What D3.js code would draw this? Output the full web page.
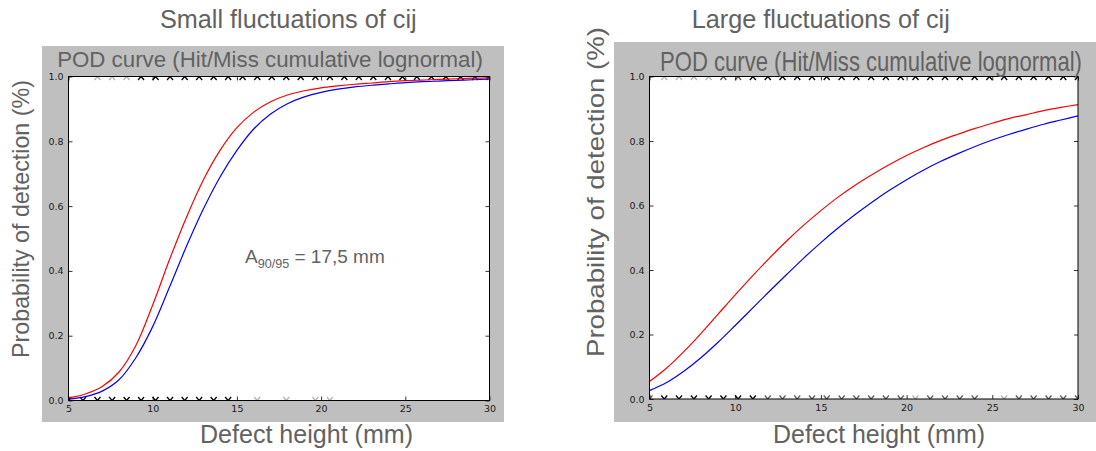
<!DOCTYPE html>
<html>
<head>
<meta charset="utf-8">
<script src="https://cdnjs.cloudflare.com/ajax/libs/d3/7.8.5/d3.min.js"></script>
<style>
  html, body { margin: 0; padding: 0; background: #ffffff; }
  svg { display: block; }
</style>
</head>
<body>
<svg id="chart" width="1096" height="451"></svg>
<script>
// ---------------- DATA ----------------
const chartTitles = ["Small fluctuations of cij", "Large fluctuations of cij"];
const subTitle = "POD curve (Hit/Miss cumulative lognormal)";
const xLabel = "Defect height (mm)";
const yLabel = "Probability of detection (%)";
const xTicks = [5, 10, 15, 20, 25, 30];
const yTicks = [0.0, 0.2, 0.4, 0.6, 0.8, 1.0];

// tested defect heights (hit/miss observations)
const heights = [5.0, 5.86, 6.72, 7.59, 8.45, 9.31, 10.17, 11.03, 11.9, 12.76,
  13.62, 14.48, 15.34, 16.21, 17.07, 17.93, 18.79, 19.66, 20.52, 21.38,
  22.24, 23.1, 23.97, 24.83, 25.69, 26.55, 27.41, 28.28, 29.14, 30.0];
// number of hits / misses observed at each height (0..3)
const hitsSmall   = [0,0,1,1,1,3,3,3,3,3,3,3,3,3,3,3,3,3,3,3,3,3,3,3,3,3,3,3,3,3];
const missesSmall = [3,3,3,3,3,3,3,3,3,3,3,3,0,1,0,1,0,1,1,0,0,0,0,0,0,0,0,0,0,0];
const hitsLarge   = [0,1,1,1,1,2,2,3,3,3,3,3,3,3,3,3,3,3,3,3,3,3,3,3,3,3,3,3,3,3];
const missesLarge = [2,3,3,3,3,3,3,3,2,2,2,2,2,2,2,2,2,2,1,2,2,2,2,0,1,2,2,2,2,2];

// POD curves read at integer defect heights
const curveX = [5,6,7,8,9,10,11,12,13,14,15,16,17,18,19,20,21,22,23,24,25,26,27,28,29,30];
const podSmallRed  = [0.008,0.02,0.043,0.088,0.17,0.295,0.435,0.565,0.68,0.772,0.842,0.89,0.922,0.943,0.956,0.965,0.971,0.976,0.98,0.984,0.987,0.989,0.991,0.993,0.995,0.996];
const podSmallBlue = [0.004,0.012,0.029,0.064,0.132,0.228,0.35,0.475,0.59,0.69,0.772,0.838,0.884,0.916,0.937,0.951,0.961,0.968,0.973,0.977,0.981,0.984,0.986,0.988,0.99,0.992];
const podLargeRed  = [0.054,0.096,0.147,0.203,0.263,0.323,0.381,0.437,0.49,0.539,0.584,0.626,0.663,0.696,0.727,0.755,0.78,0.802,0.821,0.839,0.855,0.87,0.882,0.894,0.904,0.913];
const podLargeBlue = [0.026,0.051,0.086,0.128,0.176,0.228,0.281,0.334,0.386,0.437,0.485,0.53,0.572,0.611,0.647,0.68,0.71,0.737,0.761,0.783,0.803,0.821,0.837,0.852,0.865,0.878];

const annotationMain = "A";
const annotationSub = "90/95";
const annotationRest = " = 17,5 mm";

// ---------------- LAYOUT ----------------
const svg = d3.select("#chart");
const SANS = "'Liberation Sans', Arial, Helvetica, sans-serif";
const TICKFONT = "'DejaVu Sans', sans-serif";
const TEXTGREY = "#626262";

function fitWidth(sel, target) {
  const base = parseFloat(sel.attr("font-size"));
  const w = sel.node().getComputedTextLength();
  sel.attr("font-size", (base * target / w).toFixed(2));
}

const panels = [
  { title: chartTitles[0], panel: [42, 46, 504, 422], plot: [68.5, 76.5, 489.5, 400.5],
    titleX: 288.3, titleW: 256.7, subX: 270, subY: 67, subW: 426, subSY: 1.0,
    xlX: 306.5, xlW: 213, ylX: 29, ylY: 219, ylLen: 278,
    red: podSmallRed, blue: podSmallBlue, hits: hitsSmall, misses: missesSmall, annot: true },
  { title: chartTitles[1], panel: [614, 42, 1096, 422], plot: [649.5, 76.5, 1078, 399],
    titleX: 820.8, titleW: 258, subX: 871, subY: 71, subW: 421.7, subSY: 1.25,
    xlX: 879, xlW: 212, ylX: 604, ylY: 192, ylLen: 330,
    red: podLargeRed, blue: podLargeBlue, hits: hitsLarge, misses: missesLarge, annot: false }
];

const opacityFor = c => c === 0 ? 0 : (c === 1 ? 0.3 : (c === 2 ? 0.65 : 1.0));

panels.forEach((cfg, idx) => {
  const [px0, py0, px1, py1] = cfg.panel;
  const [x0, y0, x1, y1] = cfg.plot;
  const g = svg.append("g");

  // grey figure panel
  g.append("rect").attr("x", px0).attr("y", py0)
    .attr("width", px1 - px0).attr("height", py1 - py0).attr("fill", "#bfbfbf");

  const x = d3.scaleLinear().domain([5, 30]).range([x0, x1]);
  const y = d3.scaleLinear().domain([0, 1]).range([y1, y0]);

  // white axes background
  g.append("rect").attr("x", x0).attr("y", y0)
    .attr("width", x1 - x0).attr("height", y1 - y0).attr("fill", "#ffffff");

  const clipId = "clip" + idx;
  g.append("clipPath").attr("id", clipId).append("rect")
    .attr("x", x0).attr("y", y0).attr("width", x1 - x0).attr("height", y1 - y0);

  const inner = g.append("g").attr("clip-path", `url(#${clipId})`);

  // hit/miss markers (x markers, clipped by axes)
  const xm = "M-3,-3.5L3,3.5M-3,3.5L3,-3.5";
  const obs = heights.map((h, i) => ({ h, hit: cfg.hits[i], miss: cfg.misses[i] }));
  inner.selectAll(".hit").data(obs.filter(d => d.hit > 0)).join("path")
    .attr("d", xm).attr("transform", d => `translate(${x(d.h)},${y(1)})`)
    .attr("stroke", "#000").attr("stroke-width", 1.3).attr("fill", "none")
    .attr("stroke-opacity", d => opacityFor(d.hit));
  inner.selectAll(".miss").data(obs.filter(d => d.miss > 0)).join("path")
    .attr("d", xm).attr("transform", d => `translate(${x(d.h)},${y(0)})`)
    .attr("stroke", "#000").attr("stroke-width", 1.3).attr("fill", "none")
    .attr("stroke-opacity", d => opacityFor(d.miss));

  // POD curves
  const line = d3.line().x(d => x(d[0])).y(d => y(d[1])).curve(d3.curveCatmullRom.alpha(0.5));
  inner.append("path").datum(curveX.map((v, i) => [v, cfg.blue[i]]))
    .attr("d", line).attr("fill", "none").attr("stroke", "#0000ff").attr("stroke-width", 1.2);
  inner.append("path").datum(curveX.map((v, i) => [v, cfg.red[i]]))
    .attr("d", line).attr("fill", "none").attr("stroke", "#ff0000").attr("stroke-width", 1.2);

  // axes with inward ticks on all four sides
  const tickLen = 4;
  const axB = g.append("g").attr("transform", `translate(0,${y1})`)
    .call(d3.axisBottom(x).tickValues(xTicks).tickSize(-tickLen).tickPadding(5).tickFormat(d3.format("d")));
  const axT = g.append("g").attr("transform", `translate(0,${y0})`)
    .call(d3.axisTop(x).tickValues(xTicks).tickSize(-tickLen).tickFormat(""));
  const axL = g.append("g").attr("transform", `translate(${x0},0)`)
    .call(d3.axisLeft(y).tickValues(yTicks).tickSize(-tickLen).tickPadding(5).tickFormat(d3.format(".1f")));
  const axR = g.append("g").attr("transform", `translate(${x1},0)`)
    .call(d3.axisRight(y).tickValues(yTicks).tickSize(-tickLen).tickFormat(""));
  [axB, axT, axL, axR].forEach(a => {
    a.select(".domain").remove();
    a.selectAll(".tick line").attr("stroke", "#000").attr("stroke-width", 0.8);
    a.selectAll(".tick text").attr("font-family", TICKFONT).attr("font-size", 9.5).attr("fill", "#1a1a1a");
  });
  axB.selectAll(".tick text").attr("dy", "0.71em");

  // spine
  g.append("rect").attr("x", x0).attr("y", y0)
    .attr("width", x1 - x0).attr("height", y1 - y0)
    .attr("fill", "none").attr("stroke", "#000").attr("stroke-width", 1);

  // texts
  const t = svg.append("text").attr("x", cfg.titleX).attr("y", 28.3)
    .attr("text-anchor", "middle").attr("font-family", SANS).attr("font-size", 20)
    .attr("fill", TEXTGREY).text(cfg.title);
  fitWidth(t, cfg.titleW);

  const st = svg.append("text")
    .attr("transform", `translate(${cfg.subX},${cfg.subY}) scale(1,${cfg.subSY})`)
    .attr("text-anchor", "middle").attr("font-family", SANS).attr("font-size", 18)
    .attr("fill", TEXTGREY).text(subTitle);
  fitWidth(st, cfg.subW);

  const xl = svg.append("text").attr("x", cfg.xlX).attr("y", 443)
    .attr("text-anchor", "middle").attr("font-family", SANS).attr("font-size", 22)
    .attr("fill", TEXTGREY).text(xLabel);
  fitWidth(xl, cfg.xlW);

  const yl = svg.append("text")
    .attr("transform", `translate(${cfg.ylX},${cfg.ylY}) rotate(-90)`)
    .attr("text-anchor", "middle").attr("font-family", SANS).attr("font-size", 22)
    .attr("fill", TEXTGREY).text(yLabel);
  if (idx === 0) {
    fitWidth(yl, cfg.ylLen);
  } else {
    yl.attr("font-size", 23.2).attr("textLength", cfg.ylLen).attr("lengthAdjust", "spacingAndGlyphs");
  }

  if (cfg.annot) {
    const a = svg.append("text").attr("x", 245).attr("y", 263)
      .attr("font-family", SANS).attr("font-size", 19).attr("fill", TEXTGREY);
    a.append("tspan").text(annotationMain);
    a.append("tspan").attr("font-size", 12.6).attr("dy", 5).text(annotationSub);
    a.append("tspan").attr("dy", -5).text(annotationRest);
  }
});
</script>
</body>
</html>
